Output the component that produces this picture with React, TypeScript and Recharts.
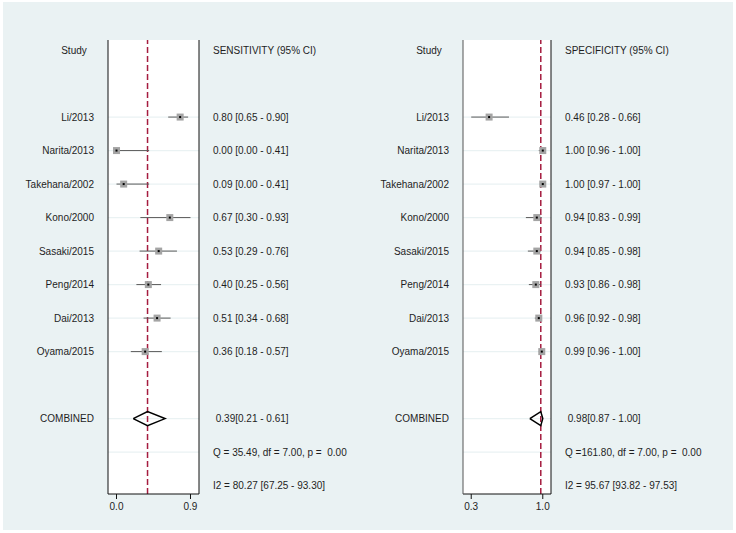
import {
  ScatterChart, Scatter, XAxis, YAxis, ErrorBar, ReferenceLine, CartesianGrid,
} from 'recharts';

// study data
const studies = ['Li/2013', 'Narita/2013', 'Takehana/2002', 'Kono/2000', 'Sasaki/2015', 'Peng/2014', 'Dai/2013', 'Oyama/2015'];
const sensEst = [0.80, 0.00, 0.09, 0.67, 0.53, 0.40, 0.51, 0.36];
const sensLo = [0.65, 0.00, 0.00, 0.30, 0.29, 0.25, 0.34, 0.18];
const sensHi = [0.90, 0.41, 0.41, 0.93, 0.76, 0.56, 0.68, 0.57];
const specEst = [0.46, 1.00, 1.00, 0.94, 0.94, 0.93, 0.96, 0.99];
const specLo = [0.28, 0.96, 0.97, 0.83, 0.85, 0.86, 0.92, 0.96];
const specHi = [0.66, 1.00, 1.00, 0.99, 0.98, 0.98, 0.98, 1.00];

// pooled estimate [est, lo, hi]
const sensCombined = [0.39, 0.21, 0.61];
const specCombined = [0.98, 0.87, 1.00];

// heterogeneity: [sensitivity, specificity]
const hetQ = [35.49, 161.80];
const hetDf = [7.0, 7.0];
const hetP = [0.0, 0.0];
const i2 = [80.27, 95.67];
const i2Lo = [67.25, 93.82];
const i2Hi = [93.30, 97.53];

const titles = ['SENSITIVITY (95% CI)', 'SPECIFICITY (95% CI)'];

const ROWS = 14;
const STUDY_ROW0 = 2;
const COMBINED_ROW = 11;
const rowTicks = [0, 2, 3, 4, 5, 6, 7, 8, 9, 11, 12, 13];
const gridRows = [2, 3, 4, 5, 6, 7, 8, 9, 11, 12];

const FONT = '"Liberation Sans", Arial, Helvetica, sans-serif';
const TEXT = '#1e1e1e';
const BG = '#eaf2f3';

const f2 = (v: number) => v.toFixed(2);

type PanelProps = {
  idx: number;
  est: number[];
  lo: number[];
  hi: number[];
  combined: number[];
  left: number;
  leftAxisW: number;
  rightAxisW: number;
  leftBorder: string;
};

function Panel({ idx, est, lo, hi, combined, left, leftAxisW, rightAxisW, leftBorder }: PanelProps) {
  const points = est.map((v, i) => ({ x: v, y: STUDY_ROW0 + i, err: [v - lo[i], hi[i] - v] }));

  const h = 0.21; // diamond half height in rows
  const diamond = [
    { x: combined[1], y: COMBINED_ROW },
    { x: combined[0], y: COMBINED_ROW - h },
    { x: combined[2], y: COMBINED_ROW },
    { x: combined[0], y: COMBINED_ROW + h },
    { x: combined[1], y: COMBINED_ROW },
  ];

  const xMin = Math.min(...lo);
  const xMax = Math.max(...hi);
  const pad = (xMax - xMin) * 0.115;

  const leftLabels: string[] = new Array(ROWS).fill('');
  const rightLabels: string[] = new Array(ROWS).fill('');
  leftLabels[0] = 'Study';
  rightLabels[0] = titles[idx];
  studies.forEach((s, i) => {
    leftLabels[STUDY_ROW0 + i] = s;
    rightLabels[STUDY_ROW0 + i] = `${f2(est[i])} [${f2(lo[i])} - ${f2(hi[i])}]`;
  });
  leftLabels[COMBINED_ROW] = 'COMBINED';
  rightLabels[COMBINED_ROW] = ` ${f2(combined[0])}[${f2(combined[1])} - ${f2(combined[2])}]`;
  rightLabels[12] = `Q =${f2(hetQ[idx]).padStart(6)}, df = ${f2(hetDf[idx])}, p =${f2(hetP[idx]).padStart(6)}`;
  rightLabels[13] = `I2 = ${f2(i2[idx])} [${f2(i2Lo[idx])} - ${f2(i2Hi[idx])}]`;

  const leftTick = (p: any) => {
    const row = p.payload.value;
    const head = row === 0;
    return (
      <text x={head ? p.x - 34 : p.x - 14} y={p.y} dy="0.35em" textAnchor={head ? 'middle' : 'end'}
        fontSize={10} fill={TEXT}>{leftLabels[row]}</text>
    );
  };
  const rightTick = (p: any) => (
    <text x={p.x + 14} y={p.y} dy="0.35em" textAnchor="start" fontSize={10} fill={TEXT}
      style={{ whiteSpace: 'pre' }}>{rightLabels[p.payload.value]}</text>
  );

  return (
    <div style={{ position: 'absolute', left, top: 0 }}>
      <ScatterChart width={368} height={533} margin={{ top: 40, right: 0, bottom: 9, left: 0 }}>
        <CartesianGrid horizontal={false} vertical={false} fill="#ffffff" yAxisId="l" />
        <XAxis type="number" dataKey="x" domain={[xMin - pad, xMax + pad]} ticks={[xMin, xMax]}
          allowDataOverflow tickFormatter={(v: number) => v.toFixed(1)} height={30}
          tick={{ fontSize: 10, fill: TEXT }} axisLine={{ stroke: '#111' }} tickLine={{ stroke: '#111' }}
          tickSize={5} tickMargin={4} />
        <YAxis yAxisId="l" type="number" dataKey="y" domain={[-0.3, 13.25]} reversed allowDataOverflow
          ticks={rowTicks} interval={0} width={leftAxisW} tickSize={0} tickMargin={0} tickLine={false}
          axisLine={{ stroke: leftBorder }} tick={leftTick} />
        <YAxis yAxisId="r" orientation="right" type="number" dataKey="y" domain={[-0.3, 13.25]} reversed
          allowDataOverflow ticks={rowTicks} interval={0} width={rightAxisW} tickSize={0} tickMargin={0}
          tickLine={false} axisLine={{ stroke: '#111' }} tick={rightTick} />
        {gridRows.map((r) => (
          <ReferenceLine key={r} yAxisId="r" y={r} stroke={BG} strokeWidth={1.2} />
        ))}
        <ReferenceLine yAxisId="l" x={combined[0]} stroke="#a51c3f" strokeWidth={1.5} strokeDasharray="6 3" />
        <Scatter yAxisId="l" data={points} isAnimationActive={false}
          shape={(p: any) => (
            <g>
              <rect x={p.cx - 3.5} y={p.cy - 3.5} width={7} height={7} fill="#a4a4a4" />
              <rect x={p.cx - 1} y={p.cy - 1} width={2} height={2} fill="#000" />
            </g>
          )}>
          <ErrorBar dataKey="err" direction="x" width={0} stroke="#5a5a5a" strokeWidth={1} />
        </Scatter>
        <Scatter yAxisId="l" data={diamond} isAnimationActive={false} line={{ stroke: '#000', strokeWidth: 1.5 }}
          lineType="joint" fill="none" shape={() => <g />} />
      </ScatterChart>
    </div>
  );
}

export default function App() {
  return (
    <div style={{ position: 'absolute', left: 0, top: 0, width: 736, height: 533, background: '#fff', fontFamily: FONT }}>
      <div style={{ position: 'absolute', left: 3, top: 2, width: 730, height: 528, background: BG }} />
      <Panel idx={0} est={sensEst} lo={sensLo} hi={sensHi} combined={sensCombined}
        left={0} leftAxisW={108} rightAxisW={169} leftBorder="#111" />
      <Panel idx={1} est={specEst} lo={specLo} hi={specHi} combined={specCombined}
        left={368} leftAxisW={95} rightAxisW={185} leftBorder="#555" />
    </div>
  );
}
